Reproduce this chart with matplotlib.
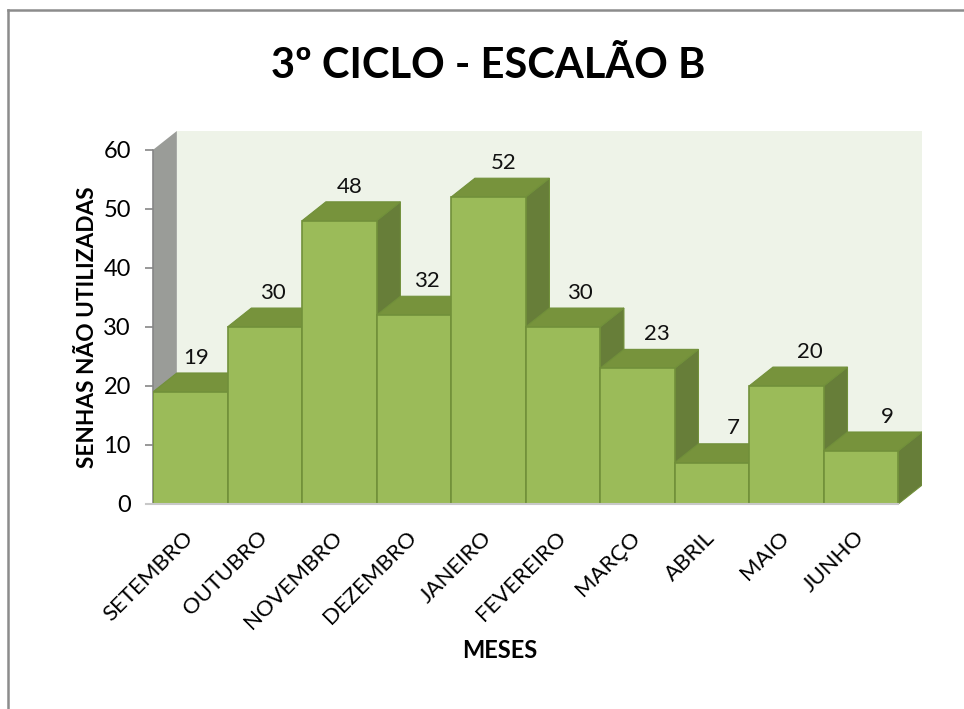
import matplotlib
matplotlib.use("Agg")
import matplotlib.pyplot as plt
from matplotlib.patches import Polygon
from matplotlib.lines import Line2D

# ---- data ----
months = ["SETEMBRO", "OUTUBRO", "NOVEMBRO", "DEZEMBRO", "JANEIRO",
          "FEVEREIRO", "MARÇO", "ABRIL", "MAIO", "JUNHO"]
values = [19, 30, 48, 32, 52, 30, 23, 7, 20, 9]
y_ticks = [0, 10, 20, 30, 40, 50, 60]
title = "3º CICLO - ESCALÃO B"
x_label = "MESES"
y_label = "SENHAS NÃO UTILIZADAS"

# ---- style ----
FONT = ["Lato", "DejaVu Sans"]
plt.rcParams["font.family"] = FONT
FRONT = "#9BBB59"
TOP = "#77933C"
SIDE = "#677E39"
EDGE = "#71903A"
BACK = "#EEF3E8"
WALL = "#9A9C98"
AXIS = "#868686"

W, H = 964, 709
fig = plt.figure(figsize=(W / 100, H / 100), dpi=100)

DX = 0.32   # depth offset (category units)
DY = 3.2    # depth offset (value units)
ymax = y_ticks[-1]
n = len(values)

ax = fig.add_axes([153 / W, 1 - 504 / H, (922 - 153) / W, (504 - 131) / H])
ax.set_xlim(-0.5, n - 0.5 + DX)
ax.set_ylim(0, ymax + DY)
for s in ax.spines.values():
    s.set_visible(False)
ax.patch.set_visible(False)

x0, x1 = -0.5, n - 0.5
# back wall
ax.add_patch(Polygon([(x0 + DX, DY), (x1 + DX, DY), (x1 + DX, ymax + DY), (x0 + DX, ymax + DY)],
                     closed=True, facecolor=BACK, edgecolor="none", zorder=0))
# left wall
ax.add_patch(Polygon([(x0, 0), (x0 + DX, DY), (x0 + DX, ymax + DY), (x0, ymax)],
                     closed=True, facecolor=WALL, edgecolor="none", zorder=0))
# floor
ax.add_patch(Polygon([(x0, 0), (x1, 0), (x1 + DX, DY), (x0 + DX, DY)],
                     closed=True, facecolor="#D9D9D9", edgecolor="none", zorder=0))

# bars
for i, v in enumerate(values):
    z = 2 + i * 3
    ax.add_patch(Polygon([(i + 0.5, 0), (i + 0.5 + DX, DY), (i + 0.5 + DX, v + DY), (i + 0.5, v)],
                         closed=True, facecolor=SIDE, edgecolor=EDGE, lw=0.8, zorder=z))
    ax.add_patch(Polygon([(i - 0.5, v), (i + 0.5, v), (i + 0.5 + DX, v + DY), (i - 0.5 + DX, v + DY)],
                         closed=True, facecolor=TOP, edgecolor=EDGE, lw=0.8, zorder=z + 1))
    ax.bar(i, v, width=1.0, color=FRONT, edgecolor=EDGE, lw=1.2, zorder=z + 2)
    # label shifts slightly with depth perspective across the row
    ax.text(i + 0.08 + 0.03 * i, v + DY + 0.9, str(v), ha="center", va="bottom",
            fontsize=16, color="#111111", zorder=100)

# axis lines
ax.plot([x0, x0], [0, ymax], color=AXIS, lw=1.2, zorder=1, clip_on=False)
ax.plot([x0 - 0.1, x1], [0, 0], color="#C8C8C8", lw=1.5, zorder=60, clip_on=False)

ax.set_yticks(y_ticks)
ax.set_yticklabels([str(t) for t in y_ticks], fontsize=17)
ax.tick_params(axis="y", length=6, width=1.2, color=AXIS, pad=10)

ax.set_xticks(range(n))
ax.set_xticklabels(months, rotation=45, ha="right", va="center",
                   rotation_mode="anchor", fontsize=16)
ax.tick_params(axis="x", length=0, pad=22)

fig.text(88 / W, 1 - 327 / H, y_label, rotation=90, ha="center", va="center",
         fontsize=16.3, fontweight="bold")
fig.text(500 / W, 1 - 651 / H, x_label, ha="center", va="center",
         fontsize=17, fontweight="bold")
fig.text(488 / W, 1 - 66 / H, title, ha="center", va="center",
         fontsize=30, fontweight="bold")

# outer frame (top & left edges visible)
fig.add_artist(Line2D([8 / W, 1], [1 - 10 / H, 1 - 10 / H], transform=fig.transFigure,
                      color="#8C8C8C", lw=1.8))
fig.add_artist(Line2D([8 / W, 8 / W], [0, 1 - 10 / H], transform=fig.transFigure,
                      color="#8C8C8C", lw=1.8))

fig.savefig("out.png", dpi=100, facecolor="white")
